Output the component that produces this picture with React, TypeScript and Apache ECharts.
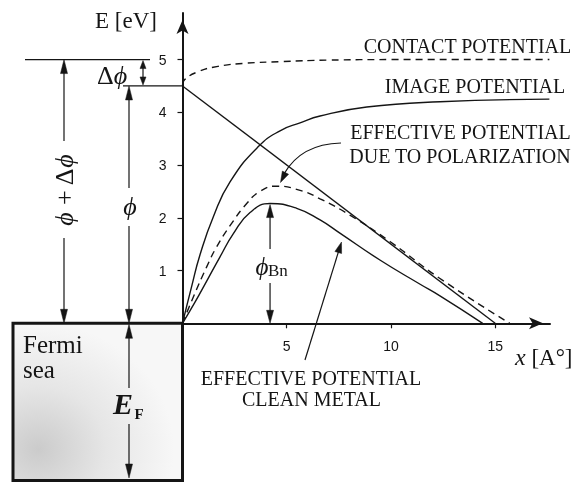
import React, { useEffect, useRef } from "react";
import * as echarts from "echarts";

// Axis ticks and extents (x in Å, E in eV)
const xTicks = [5, 10, 15];
const yTicks = [1, 2, 3, 4, 5];
const xMax = 17.63;
const yMax = 5.883;

// Energy levels on the metal side
const workFunction = 4.5; // ϕ
const contactLevel = 5; // ϕ + Δϕ

// Potential curves, [x (Å), E (eV)]
const contactPotential: number[][] = [
  [0, 4.52], [0.1, 4.62], [0.75, 4.77], [1.7, 4.87], [3, 4.93],
  [4.7, 4.96], [7, 4.99], [10, 5.0], [17.6, 5.0],
];
const imagePotential: number[][] = [
  [0, 0], [0.44, 0.7], [0.84, 1.3], [1.48, 2.02], [2.28, 2.68],
  [3.64, 3.35], [4.68, 3.65], [5.64, 3.8], [6.6, 3.93], [8.84, 4.1],
  [12.35, 4.2], [17.6, 4.25],
];
const fieldLine: number[][] = [[0, 4.5], [15, 0]];
const polarizationPotential: number[][] = [
  [0, 0], [0.52, 0.5], [1.16, 1.07], [1.64, 1.45], [2.28, 1.85],
  [3.08, 2.27], [3.72, 2.5], [4.5, 2.6], [5.64, 2.52], [6.6, 2.36],
  [8.03, 2.05], [9.95, 1.55], [12.35, 0.85], [15.7, 0],
];
const cleanMetalPotential: number[][] = [
  [0, 0], [0.6, 0.4], [1.16, 0.8], [1.8, 1.26], [2.44, 1.7],
  [3.24, 2.1], [4.2, 2.27], [5.48, 2.18], [6.6, 1.96], [7.55, 1.71],
  [9.47, 1.2], [11.4, 0.74], [12.35, 0.52], [14.4, 0],
];

const INK = "#151515";
const SERIF = '"Liberation Serif", "Times New Roman", "DejaVu Serif", serif';
const SANS = '"Liberation Sans", Arial, sans-serif';

function arrowHead(tx: number, ty: number, fx: number, fy: number, len: number, hw: number) {
  const dx = tx - fx;
  const dy = ty - fy;
  const d = Math.hypot(dx, dy) || 1;
  const ux = dx / d;
  const uy = dy / d;
  const bx = tx - ux * len;
  const by = ty - uy * len;
  const nx = -uy;
  const ny = ux;
  return {
    type: "polygon",
    shape: { points: [[tx, ty], [bx + nx * hw, by + ny * hw], [bx - nx * hw, by - ny * hw]] },
    style: { fill: INK, stroke: INK, lineWidth: 0.5 },
    silent: true,
  };
}

function seg(x1: number, y1: number, x2: number, y2: number, w = 1.2) {
  return {
    type: "line",
    shape: { x1, y1, x2, y2 },
    style: { stroke: INK, lineWidth: w },
    silent: true,
  };
}

function label(text: string, x: number, y: number, size: number, extra: any = {}) {
  return {
    type: "text",
    x,
    y,
    silent: true,
    style: {
      text,
      fill: INK,
      fontFamily: SERIF,
      fontSize: size,
      align: "center",
      verticalAlign: "middle",
      ...extra,
    },
  };
}

// vertical arrow from y1 to y2 with heads at the requested ends
function vArrow(x: number, y1: number, y2: number, headTop: boolean, headBottom: boolean, len = 14, hw = 3.5) {
  const out: any[] = [seg(x, y1 + (headTop ? len - 1 : 0), x, y2 - (headBottom ? len - 1 : 0))];
  if (headTop) out.push(arrowHead(x, y1, x, y1 + 10, len, hw));
  if (headBottom) out.push(arrowHead(x, y2, x, y2 - 10, len, hw));
  return out;
}

export default function App() {
  const ref = useRef<HTMLDivElement>(null);

  useEffect(() => {
    const el = ref.current!;
    const chart = echarts.init(el, null, { renderer: "svg" });

    const curve = (name: string, data: number[][], dashed: boolean) => ({
      type: "line",
      name,
      data,
      symbol: "none",
      showSymbol: false,
      smooth: 0.5,
      clip: false,
      silent: true,
      z: 3,
      lineStyle: { color: INK, width: 1.4, type: dashed ? [7, 5] : "solid" },
    });

    chart.setOption({
      animation: false,
      grid: { left: 182.5, top: 13, width: 367.5, height: 310.3 },
      xAxis: {
        type: "value",
        min: 0,
        max: xMax,
        interval: 5,
        axisLine: {
          onZero: false,
          lineStyle: { color: INK, width: 2 },
          symbol: ["none", "arrow"],
          symbolSize: [9, 14],
          symbolOffset: [0, -7],
        },
        axisTick: { show: true, length: 5, customValues: xTicks, lineStyle: { color: INK, width: 1.2 } },
        axisLabel: { customValues: xTicks, margin: 16, fontFamily: SANS, fontSize: 14, color: INK },
        splitLine: { show: false },
      },
      yAxis: {
        type: "value",
        min: 0,
        max: yMax,
        interval: 1,
        axisLine: {
          show: true,
          onZero: false,
          lineStyle: { color: INK, width: 2 },
          symbol: ["none", "arrow"],
          symbolSize: [9, 14],
          symbolOffset: [0, -7],
        },
        axisTick: { show: true, length: 5, customValues: yTicks, lineStyle: { color: INK, width: 1.2 } },
        axisLabel: { customValues: yTicks, margin: 16, fontFamily: SANS, fontSize: 14, color: INK },
        splitLine: { show: false },
      },
      series: [
        curve("Contact potential", contactPotential, true),
        curve("Image potential", imagePotential, false),
        curve("Applied field", fieldLine, false),
        curve("Effective potential, polarization", polarizationPotential, true),
        curve("Effective potential, clean metal", cleanMetalPotential, false),
      ],
    });

    const px = (x: number, y: number) => chart.convertToPixel({ gridIndex: 0 }, [x, y]) as number[];
    const [x0, y0] = px(0, 0);
    const yC = px(0, contactLevel)[1];
    const yW = px(0, workFunction)[1];
    const peak = cleanMetalPotential.reduce((a, b) => (b[1] > a[1] ? b : a));
    const [pkX, pkY] = px(peak[0], peak[1]);

    const rich = {
      i: { fontStyle: "italic", fontFamily: SERIF, fontSize: 26, fill: INK },
    };

    const elements: any[] = [
      // Fermi sea block
      {
        type: "rect",
        shape: { x: 13, y: y0, width: x0 - 13, height: 480.5 - y0 },
        style: {
          fill: new echarts.graphic.RadialGradient(0.15, 0.8, 0.8, [
            { offset: 0, color: "#cbcbcb" },
            { offset: 0.5, color: "#e6e6e6" },
            { offset: 1, color: "#f7f7f7" },
          ]),
          stroke: INK,
          lineWidth: 3,
        },
        silent: true,
      },
      // level lines at ϕ+Δϕ and ϕ
      seg(25, yC, 150, yC, 1.3),
      seg(123, yW, x0, yW, 1.3),
      // ϕ + Δϕ
      ...vArrow(64, yC, 141, true, false),
      seg(64, 238, 64, y0 - 13),
      arrowHead(64, y0, 64, y0 - 10, 14, 3.5),
      {
        type: "text",
        x: 64,
        y: 190,
        rotation: Math.PI / 2,
        silent: true,
        style: {
          text: "{i|ϕ} + Δ{i|ϕ}",
          rich,
          fill: INK,
          fontFamily: SERIF,
          fontSize: 26,
          align: "center",
          verticalAlign: "middle",
        },
      },
      // ϕ
      ...vArrow(129, yW, 188, true, false),
      seg(129, 226, 129, y0 - 13),
      arrowHead(129, y0, 129, y0 - 10, 14, 3.5),
      label("ϕ", 130, 206, 26, { fontStyle: "italic" }),
      // Δϕ
      ...vArrow(143, yC + 1, yW - 1, true, true, 8, 3),
      {
        type: "text",
        x: 112,
        y: 75,
        silent: true,
        style: { text: "Δ{i|ϕ}", rich, fill: INK, fontFamily: SERIF, fontSize: 26, align: "center", verticalAlign: "middle" },
      },
      // Fermi sea: E_F
      ...vArrow(129, y0 + 1, 388, true, false),
      ...vArrow(129, 424, 478, false, true),
      label("E", 113, 403, 30, { fontStyle: "italic", fontWeight: "bold", align: "left" }),
      label("F", 134.5, 414, 15, { fontWeight: "bold", align: "left" }),
      label("Fermi", 23, 344, 25, { align: "left" }),
      label("sea", 23, 369, 25, { align: "left" }),
      // ϕBn barrier height
      ...vArrow(pkX, pkY + 1, 249, true, false, 13, 3.5),
      ...vArrow(pkX, 283, y0, false, true, 13, 3.5),
      label("ϕ", 262, 266, 25, { fontStyle: "italic" }),
      label("Bn", 268, 270, 17, { align: "left" }),
      // axis titles
      label("E [eV]", 95, 20, 23, { align: "left" }),
      {
        type: "text",
        x: 515,
        y: 357,
        silent: true,
        style: {
          text: "{i|x} [A°]",
          rich: { i: { fontStyle: "italic", fontFamily: SERIF, fontSize: 24, fill: INK } },
          fill: INK,
          fontFamily: SERIF,
          fontSize: 23,
          align: "left",
          verticalAlign: "middle",
        },
      },
      // curve names
      label("CONTACT POTENTIAL", 467.5, 46, 20),
      label("IMAGE POTENTIAL", 475, 86, 20),
      label("EFFECTIVE POTENTIAL", 460.5, 131.5, 20),
      label("DUE TO POLARIZATION", 460, 155.5, 20),
      label("EFFECTIVE POTENTIAL", 311, 378, 20),
      label("CLEAN METAL", 311.5, 399, 20),
      // pointer to the polarization curve
      {
        type: "bezierCurve",
        shape: { x1: 341, y1: 143, cpx1: 301, cpy1: 144, x2: 284, y2: 174 },
        style: { stroke: INK, lineWidth: 1.2, fill: "none" },
        silent: true,
      },
      arrowHead(280.5, 182.5, 300, 144, 11, 3.5),
      // pointer to the clean-metal curve
      seg(305, 360, 339, 250),
      arrowHead(341.5, 242, 305, 360, 11, 3.5),
    ];

    chart.setOption({ graphic: { elements } });

    return () => chart.dispose();
  }, []);

  return <div ref={ref} style={{ position: "fixed", left: 0, top: 0, width: 583, height: 482 }} />;
}
